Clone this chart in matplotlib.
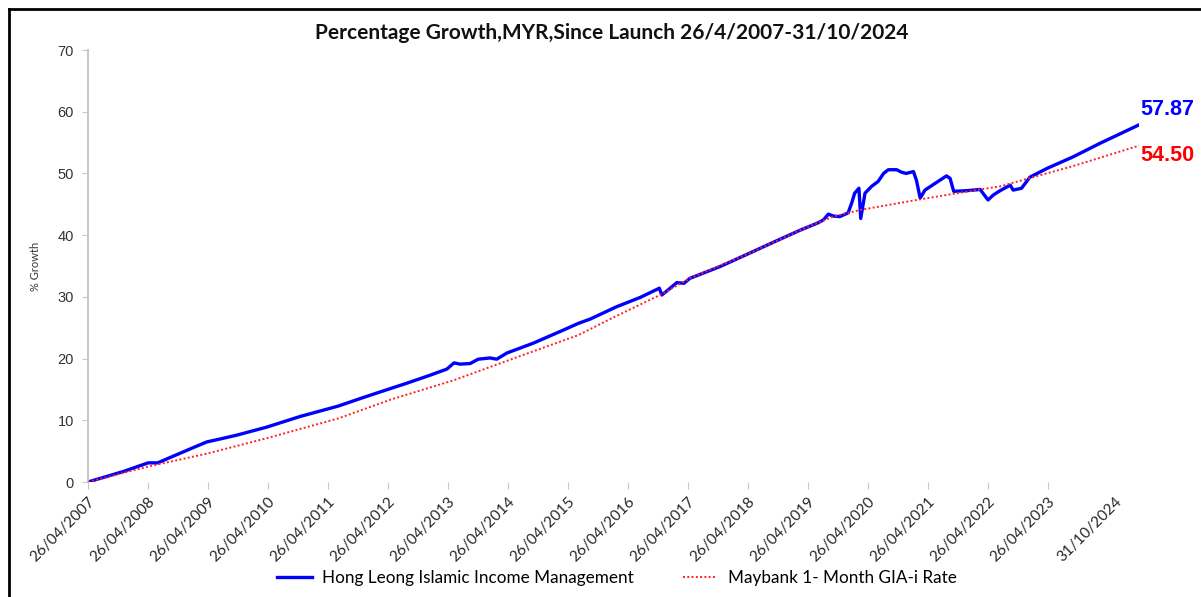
import datetime as dt

import matplotlib
matplotlib.use("Agg")
import matplotlib.pyplot as plt
import matplotlib.transforms as mtransforms
from matplotlib.lines import Line2D

# ── Data ──────────────────────────────────────────────────────────────────────
fund_dates = [
    "2007-04-26", "2007-11-27", "2008-04-26", "2008-06-23", "2009-01-28",
    "2009-04-19", "2009-07-30", "2009-10-19", "2010-04-19", "2010-11-05",
    "2011-06-27", "2011-11-17", "2012-03-09", "2012-08-17", "2013-01-06",
    "2013-04-19", "2013-06-01", "2013-07-08", "2013-09-08", "2013-10-26",
    "2014-01-07", "2014-02-16", "2014-04-19", "2014-09-27", "2015-03-10",
    "2015-06-28", "2015-09-08", "2016-02-16", "2016-07-08", "2016-11-02",
    "2016-11-17", "2017-01-07", "2017-02-16", "2017-04-01", "2017-05-07",
    "2017-11-06", "2018-05-07", "2018-10-18", "2019-03-09", "2019-06-27",
    "2019-07-30", "2019-08-28", "2019-09-26", "2019-11-05", "2019-12-26",
    "2020-01-17", "2020-02-04", "2020-03-01", "2020-03-12", "2020-04-07",
    "2020-05-17", "2020-06-26", "2020-07-29", "2020-08-27", "2020-10-17",
    "2020-11-15", "2020-12-14", "2021-01-27", "2021-02-14", "2021-03-09",
    "2021-04-07", "2021-05-28", "2021-08-16", "2021-09-07", "2021-09-29",
    "2021-12-14", "2022-03-09", "2022-03-23", "2022-04-26", "2022-05-28",
    "2022-07-08", "2022-09-08", "2022-09-26", "2022-11-16", "2023-01-06",
    "2023-04-19", "2023-09-27", "2024-03-09", "2024-10-31",
]
fund_growth = [
    0.0, 1.7, 3.1, 3.1, 5.6,
    6.5, 7.1, 7.6, 8.9, 10.6,
    12.3, 13.6, 14.6, 16.0, 17.3,
    18.3, 19.3, 19.1, 19.2, 19.9,
    20.1, 19.9, 20.9, 22.5, 24.4,
    25.7, 26.4, 28.4, 29.9, 31.4,
    30.3, 31.4, 32.3, 32.2, 33.0,
    34.9, 37.1, 39.1, 40.8, 42.0,
    42.5, 43.4, 43.1, 43.0, 43.6,
    45.2, 46.8, 47.6, 42.7, 46.8,
    47.9, 48.7, 50.0, 50.6, 50.6,
    50.2, 50.0, 50.3, 48.9, 46.0,
    47.3, 48.2, 49.6, 49.2, 47.1,
    47.2, 47.4, 46.9, 45.7, 46.5,
    47.2, 48.1, 47.3, 47.6, 49.4,
    50.8, 52.7, 54.9, 57.87,
]

bench_dates = [
    "2007-04-26", "2008-04-26", "2009-04-19", "2010-04-19", "2011-06-27",
    "2012-05-17", "2013-06-01", "2014-07-08", "2015-06-28", "2016-01-07",
    "2016-11-06", "2017-05-07", "2018-05-07", "2019-03-09", "2019-09-26",
    "2020-03-12", "2021-03-09", "2022-03-09", "2022-07-08", "2023-09-27",
    "2024-10-31",
]
bench_growth = [
    0.0, 2.5, 4.6, 7.1, 10.3,
    13.4, 16.5, 20.4, 23.8, 26.4,
    30.3, 33.0, 37.1, 40.8, 43.0,
    44.1, 45.8, 47.4, 47.9, 51.2,
    54.5,
]

tick_dates = [f"{y}-04-26" for y in range(2007, 2024)] + ["2024-10-31"]
tick_labels = [f"26/04/{y}" for y in range(2007, 2024)] + ["31/10/2024"]

fund_name = "Hong Leong Islamic Income Management"
bench_name = "Maybank 1- Month GIA-i Rate"
title = "Percentage Growth,MYR,Since Launch 26/4/2007-31/10/2024"


def to_dates(strings):
    return [dt.datetime.strptime(s, "%Y-%m-%d") for s in strings]


fd, bd, td = to_dates(fund_dates), to_dates(bench_dates), to_dates(tick_dates)

# ── Figure ────────────────────────────────────────────────────────────────────
W, H = 1201, 597
fig = plt.figure(figsize=(W / 100, H / 100), dpi=100)
ax = fig.add_axes([88 / W, 1 - 482 / H, (1139 - 88) / W, (482 - 50) / H])

ax.plot(bd, bench_growth, color="#ff2020", lw=1.4, ls=(0, (1, 1.2)), zorder=3)
ax.plot(fd, fund_growth, color="#0000ff", lw=2.4, zorder=2)

ax.set_xlim(fd[0], fd[-1])
ax.set_ylim(0, 70)
ax.set_yticks(range(0, 71, 10))

ax.set_xticks(td)
ax.set_xticklabels(tick_labels, rotation=45, ha="right", rotation_mode="anchor",
                   family="Lato", fontsize=11, color="#262626")
for lab in ax.get_yticklabels():
    lab.set_family("Liberation Sans")
    lab.set_fontsize(10.5)
    lab.set_color("#333333")

ax.tick_params(axis="x", length=5, color="#c8c8c8", pad=4)
ax.tick_params(axis="y", length=4, color="#c8c8c8", pad=6)
ax.xaxis.get_major_ticks()[-1].tick1line.set_visible(False)
# the final date label sits a little left of the series end in the original
last = ax.get_xticklabels()[-1]
last.set_transform(last.get_transform() +
                   mtransforms.ScaledTranslation(-24 / 100, 0, fig.dpi_scale_trans))

for side in ("top", "right", "bottom"):
    ax.spines[side].set_visible(False)
ax.spines["left"].set_color("#c8c8c8")
ax.spines["left"].set_linewidth(1.5)

ax.set_ylabel("% Growth", family="Lato", fontsize=8, color="#333333", labelpad=12)

fig.text(612 / W, 1 - 33 / H, title, ha="center", va="center",
         family="Lato", fontweight="bold", fontsize=15, color="#111111")

# End-value labels
ax.annotate(f"{fund_growth[-1]:.2f}", (fd[-1], fund_growth[-1]), xytext=(1, 11),
            textcoords="offset points", color="#0000ff", fontweight="bold",
            family="Liberation Sans", fontsize=15.5, va="center", ha="left",
            annotation_clip=False)
ax.annotate(f"{bench_growth[-1]:.2f}", (bd[-1], bench_growth[-1]), xytext=(1, -7),
            textcoords="offset points", color="#ff0000", fontweight="bold",
            family="Liberation Sans", fontsize=15.5, va="center", ha="left",
            annotation_clip=False)

# Legend
handles = [
    Line2D([], [], color="#0000ff", lw=2.4),
    Line2D([], [], color="#ff2020", lw=1.4, ls=(0, (1, 1.2))),
]
fig.legend(handles, [fund_name, bench_name], loc="center",
           bbox_to_anchor=(617 / W, 1 - 578 / H), ncol=2, frameon=False,
           handlelength=2.0, handletextpad=0.6, columnspacing=2.9,
           prop={"family": "Lato", "size": 12.3})

# Chart border (left and top edges visible in the crop)
fig.add_artist(Line2D([9 / W, 9 / W], [0, 1 - 9 / H], color="black", lw=2,
                      transform=fig.transFigure))
fig.add_artist(Line2D([9 / W, 1], [1 - 9 / H, 1 - 9 / H], color="black", lw=2,
                      transform=fig.transFigure))

fig.savefig("out.png", dpi=100)
